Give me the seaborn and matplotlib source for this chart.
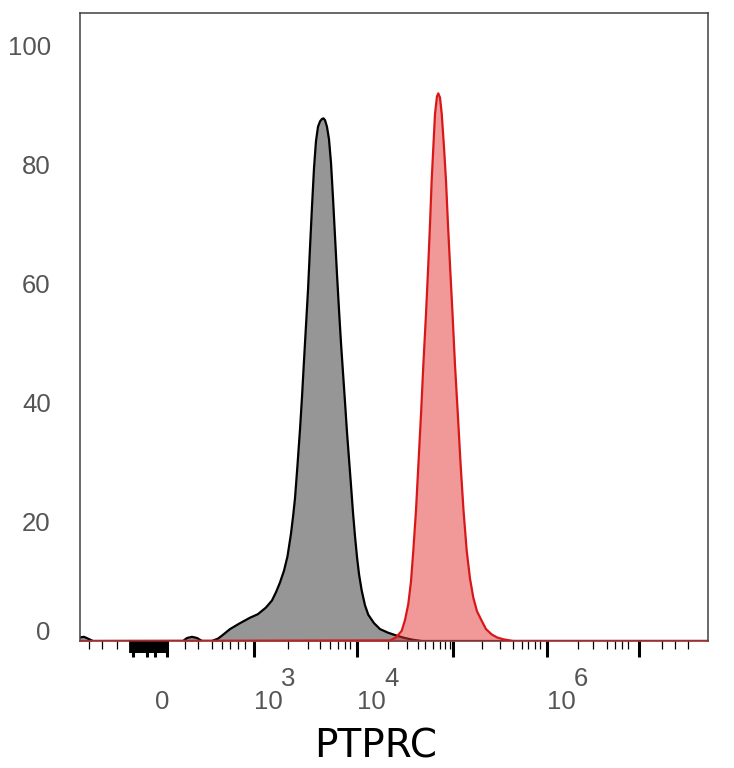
import numpy as np
import pandas as pd
import matplotlib
matplotlib.use("Agg")
import matplotlib.pyplot as plt
from matplotlib.transforms import ScaledTranslation, blended_transform_factory
import seaborn as sns

# ---------------- data (x in display channels 0..1024, y in % of max) -------------
unstained_x = [0, 6.5, 13, 21, 168, 174.5, 182.6, 190.8, 199, 215, 225, 231.5, 244.6,
               261, 277, 290, 303, 313, 319.6, 326, 332.6, 338.3, 344, 347.5, 350.6, 354.6,
               358.7, 362.0, 365.2, 368.5, 371.8, 375.0, 378.3, 381.6, 384.8, 388.1,
               391.4, 394.6, 397.0, 399.5, 402.7, 406.0, 409.3, 412.5, 415.8, 419.1,
               422.4, 425.6, 428.9, 432.2, 435.4, 438.7, 442.0, 445.2, 448.5, 451.8,
               455.0, 459.3, 464.7, 470.1, 479.4, 489.2, 502.2, 516.4, 529.9,
               543, 557.7, 1024]
unstained_y = [0.6, 0.7, 0.4, 0.0, 0.0, 0.5, 0.7, 0.5, 0.0, 0.0, 0.4, 0.9, 2.0,
               3.0, 3.9, 4.5, 5.6, 6.8, 8.2, 9.8, 11.8, 14.2, 18.0, 21.0, 24.0, 29.5,
               35.5, 41.0, 47.0, 53.0, 59.0, 66.0, 73.0, 79.5, 84.0, 86.4,
               87.3, 87.7, 87.8, 87.5, 86.4, 84.3, 80.3, 74.5, 68.0, 61.5,
               55.5, 50.0, 45.0, 40.0, 35.0, 30.5, 26.0, 21.5, 17.5, 14.0,
               11.2, 8.5, 6.0, 4.4, 3.0, 2.0, 1.4, 0.9, 0.5,
               0.2, 0.0, 0.0]

stained_x = [0, 505.5, 515.3, 524.5, 529.9, 535.3, 539.7, 543.5, 547.9, 551.6, 556,
             559.8, 564.2, 567.9, 570.7, 573.4, 576.4, 578.9, 582.1, 584.2, 587,
             589.8, 593.5, 596.8, 600, 603.3, 607.4, 611.5, 616.4, 620.8, 625.3,
             630.5, 635.9, 641.3, 647.3, 655, 662, 671.3, 680, 689.7, 706, 1024]
stained_y = [0.0, 0.1, 0.6, 1.7, 3.5, 6.2, 10.0, 15.2, 22.0, 29.3, 38.0,
             46.3, 55.0, 63.2, 70.0, 77.3, 83.5, 88.6, 91.5, 92.0, 91.3,
             88.6, 83.0, 77.3, 70.0, 63.2, 55.0, 46.3, 37.5, 29.3, 22.0,
             15.2, 10.5, 7.3, 5.0, 3.4, 2.0, 1.1, 0.6, 0.3, 0.0, 0.0]

# axis decoration (channel positions of the biexponential ticks)
major_ticks = [86.4, 109.2, 122.3, 141.9, 283.7, 451.7, 608.2, 761.5, 911.5]
major_labels = ["", "", "0", "", "10", "10", "", "10", ""]
exponent_ticks = [283.7, 451.7, 761.5]
exponent_labels = ["3", "4", "6"]
minor_ticks = [14.7, 35.9, 60.3, 171.2, 192.4, 215.2, 231.5, 244.6, 257.6, 269,
               339.1, 371.8, 391.3, 407.6, 420.6, 432.1, 440.3,
               502.2, 533.2, 551.1, 562.5, 575.6, 587, 595.2, 603.3,
               655.5, 684.8, 706, 720.7, 730.5, 741.9, 750.1,
               812, 836.5, 859.3, 872.4, 883.8, 893.5,
               949.2, 970.4, 991.6]
zero_cluster = list(np.arange(82, 144, 1.2))

y_ticks = [0, 20, 40, 60, 80, 100]

df_u = pd.DataFrame({"x": unstained_x, "y": unstained_y})
df_s = pd.DataFrame({"x": stained_x, "y": stained_y})

# ---------------- drawing -------------
sns.set_theme(style="white")
plt.rcParams["font.family"] = ["Liberation Sans", "DejaVu Sans"]

fig = plt.figure(figsize=(7.34, 7.68), dpi=100)
ax = fig.add_axes([80 / 734, 1 - 641 / 768, 628 / 734, 628 / 768])

ax.fill_between(df_u["x"], 0, df_u["y"], color="#969696", lw=0, zorder=1)
sns.lineplot(data=df_u, x="x", y="y", estimator=None, sort=False,
             color="black", lw=1.6, ax=ax, zorder=2)
ax.fill_between(df_s["x"], 0, df_s["y"], color="#E53232", alpha=0.5, lw=0, zorder=3)
sns.lineplot(data=df_s, x="x", y="y", estimator=None, sort=False,
             color="#D81818", lw=1.6, ax=ax, zorder=4)

ax.set_xlim(0, 1024)
ax.set_ylim(0, 105.5)

for s in ax.spines.values():
    s.set_visible(True)
    s.set_color("#404040")
    s.set_linewidth(1.1)

# y axis
ax.set_yticks(y_ticks)
ax.set_yticklabels([str(v) for v in y_ticks])
ax.tick_params(axis="y", length=0, pad=21, labelsize=18.5, labelcolor="#555555")
lbl0 = ax.get_yticklabels()[0]
lbl0.set_transform(lbl0.get_transform() + ScaledTranslation(0, 0.11, fig.dpi_scale_trans))

# x axis
ax.set_xticks(major_ticks)
ax.set_xticklabels(major_labels)
ax.set_xticks(minor_ticks, minor=True)
ax.tick_params(axis="x", which="major", direction="out", length=11.5, width=2.2,
               color="black", pad=24, labelsize=18.5, labelcolor="#555555", bottom=True)
ax.tick_params(axis="x", which="minor", direction="out", length=6, width=0.9,
               color="black", bottom=True)
for t in ax.get_xticklabels():
    t.set_horizontalalignment("left")

sec = ax.secondary_xaxis("bottom")
sec.set_xticks(zero_cluster)
sec.set_xticklabels([""] * len(zero_cluster))
sec.tick_params(axis="x", direction="out", length=8.5, width=1.3, color="black")
sec.spines["bottom"].set_visible(False)

trans = blended_transform_factory(ax.transData, ax.transAxes)
for xt, lab in zip(exponent_ticks, exponent_labels):
    ax.text(xt, 0, lab, transform=trans + ScaledTranslation(0.27, -0.26, fig.dpi_scale_trans),
            ha="left", va="top", fontsize=18.5, color="#555555")

ax.set_xlabel("PTPRC", fontsize=28, family="DejaVu Sans", color="black")
ax.set_ylabel("")
ax.xaxis.set_label_coords((376 - 80) / 628, (641 - 747) / 628)
ax.xaxis.label.set_verticalalignment("center")

fig.savefig("out.png", dpi=100)
